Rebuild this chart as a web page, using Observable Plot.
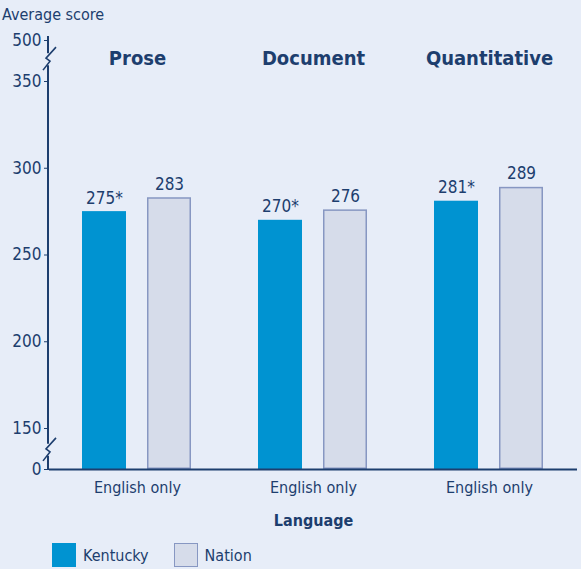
<!DOCTYPE html>
<html><head><meta charset="utf-8">
<script src="https://cdn.jsdelivr.net/npm/d3@7"></script>
<script src="https://cdn.jsdelivr.net/npm/@observablehq/plot@0.6"></script>
<style>
html,body{margin:0;padding:0;background:#E7EDF8;}
body{width:581px;height:569px;overflow:hidden;position:relative;font-family:"DejaVu Sans Condensed","Liberation Sans Narrow",sans-serif;color:#1D3E6E;}
#chart{position:absolute;left:0;top:0;}
#ytitle{position:absolute;left:2px;top:6px;font-size:16px;line-height:18px;}
#legend{position:absolute;left:52px;top:543px;display:flex;align-items:center;font-size:16px;}
.item{display:flex;align-items:center;}
.sw{width:24px;height:24px;box-sizing:border-box;margin-right:7px;}
</style></head><body><div id="chart"></div><div id="ytitle"></div><div id="legend"></div>
<script>
const FONT = '"DejaVu Sans Condensed","Liberation Sans Narrow",sans-serif';
const NAVY = "#1D3E6E";
const scaleNames = ["Prose", "Document", "Quantitative"];
const languages = ["English only", "English only", "English only"];
const seriesNames = ["Kentucky", "Nation"];
const kentucky = [275, 270, 281];
const nation = [283, 276, 289];
const kentuckyMarks = ["*", "*", "*"];
const nationMarks = ["", "", ""];
const yTicks = [0, 150, 200, 250, 300, 350, 500];
const yBreaks = [70, 430];
const yTitle = "Average score";
const xTitle = "Language";
const fills = ["#0093D1", "#D6DCEA"];
const strokes = ["#0093D1", "#8797C2"];

// broken axis: piecewise d3 scale from score to visual units
const brk = d3.scaleLinear().domain([0, 150, 350, 500]).range([0, 41, 388, 429]);

const rows = [];
scaleNames.forEach((s, i) => {
  rows.push({scale: s, language: languages[i], series: seriesNames[0], value: kentucky[i], label: kentucky[i] + kentuckyMarks[i]});
  rows.push({scale: s, language: languages[i], series: seriesNames[1], value: nation[i], label: nation[i] + nationMarks[i]});
});
const groups = scaleNames.map((s, i) => ({scale: s, language: languages[i]}));
const Y = d => brk(d.value);

const chart = Plot.plot({
  width: 581, height: 530,
  marginLeft: 48, marginRight: 3, marginTop: 40, marginBottom: 61,
  style: {background: "transparent", color: NAVY, fontFamily: FONT, fontSize: "17px"},
  fx: {domain: scaleNames, padding: 0, axis: null},
  x: {domain: seriesNames, axis: null, paddingInner: 0.318, paddingOuter: 0.4975},
  y: {domain: [0, brk(500)], ticks: yTicks.map(brk), tickSize: 5, tickPadding: 3, tickFormat: v => String(Math.round(brk.invert(v))), label: null},
  marks: [
    Plot.barY(rows.filter(d => d.series === seriesNames[0]), {fx: "scale", x: "series", y: Y, fill: fills[0]}),
    Plot.barY(rows.filter(d => d.series === seriesNames[1]), {fx: "scale", x: "series", y: Y, fill: fills[1], stroke: strokes[1], strokeWidth: 1.5, inset: 0.75}),
    Plot.ruleY([0], {stroke: NAVY, strokeWidth: 2}),
    Plot.text(rows, {fx: "scale", x: "series", y: Y, text: "label", dy: -8, lineAnchor: "bottom", fontSize: 17, fill: NAVY}),
    Plot.text(groups, {fx: "scale", text: "scale", frameAnchor: "top", dy: 10, fontSize: 20, fontWeight: "bold", fill: NAVY}),
    Plot.text(groups, {fx: "scale", text: "language", frameAnchor: "bottom", dy: 23, fontSize: 16, fill: NAVY}),
    Plot.text([groups[1]], {fx: "scale", text: () => xTitle, frameAnchor: "bottom", dy: 56, fontSize: 16, fontWeight: "bold", fill: NAVY})
  ]
});
document.getElementById("chart").appendChild(chart);
document.getElementById("ytitle").textContent = yTitle;

// y axis line with scale breaks, positioned through the y scale
const ys = chart.scale("y");
const svg = d3.select(chart);
const ax = 48;
const y0 = ys.apply(brk(0)), yTop = ys.apply(brk(500)) - 4;
const bps = yBreaks.map(b => ys.apply(brk(b))).sort((a, b) => a - b);
const segs = [];
let start = yTop;
bps.forEach(b => { segs.push([start, b - 6]); start = b + 6; });
segs.push([start, y0]);
const g = svg.append("g").attr("stroke", NAVY).attr("fill", "none");
segs.forEach(([a, b]) => g.append("line").attr("x1", ax).attr("x2", ax).attr("y1", a).attr("y2", b).attr("stroke-width", 2));
bps.forEach(b => {
  g.append("path").attr("stroke-width", 1.6)
    .attr("d", `M${ax - 5},${b + 11} L${ax + 2},${b + 2} L${ax - 2},${b - 1} L${ax + 8},${b - 12}`);
});

// legend
const legend = document.getElementById("legend");
seriesNames.forEach((name, i) => {
  const item = document.createElement("div");
  item.className = "item";
  item.style.marginRight = i === 0 ? "25px" : "0";
  const sw = document.createElement("div");
  sw.className = "sw";
  sw.style.background = fills[i];
  sw.style.border = `1.5px solid ${strokes[i]}`;
  const t = document.createElement("span");
  t.textContent = name;
  item.appendChild(sw); item.appendChild(t);
  legend.appendChild(item);
});
</script></body></html>
